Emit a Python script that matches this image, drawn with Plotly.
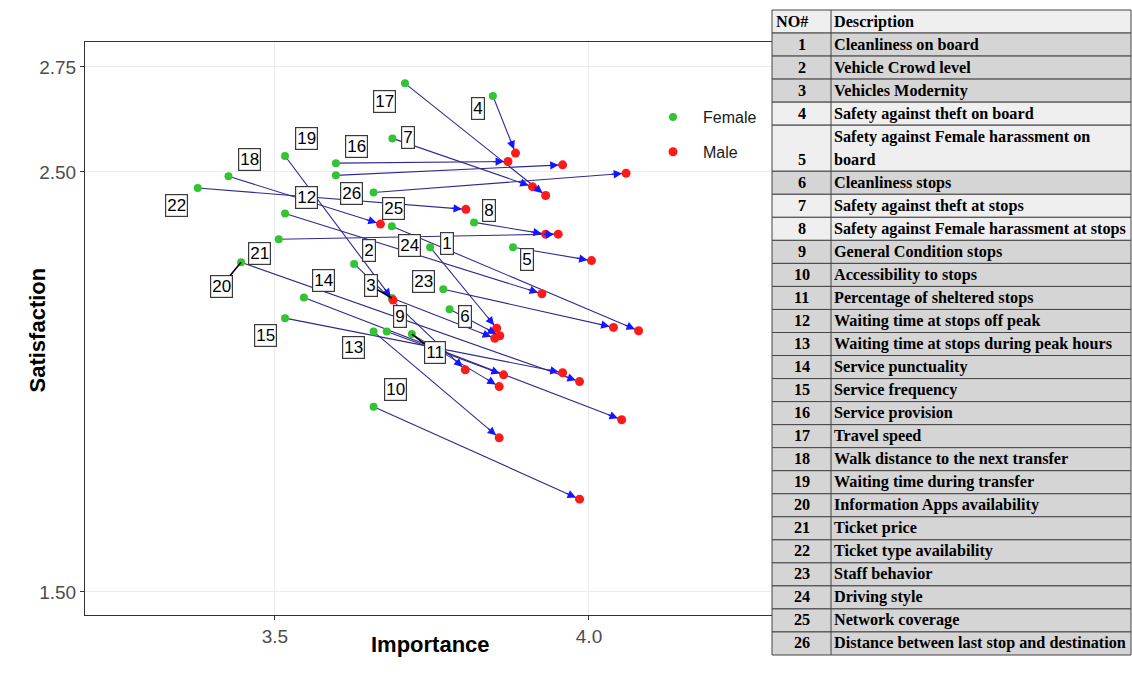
import plotly.graph_objects as go

# ---------------- data ----------------
item_no = list(range(1, 27))
female_importance = [3.747, 3.626, 3.686, 3.847, 3.879, 3.778, 3.687, 3.817, 3.678, 3.657,
                     3.718, 3.516, 3.657, 3.546, 3.516, 3.597, 3.707, 3.426, 3.516, 3.446,
                     3.506, 3.377, 3.768, 3.686, 3.657, 3.597]
female_satisfaction = [2.321, 2.281, 2.200, 2.681, 2.321, 2.173, 2.580, 2.380, 2.120, 1.941,
                       2.114, 2.401, 2.120, 2.201, 2.152, 2.521, 2.711, 2.490, 2.538, 2.285,
                       2.340, 2.462, 2.221, 2.371, 2.451, 2.492]
male_importance = [3.853, 3.803, 3.850, 3.883, 4.004, 3.858, 3.910, 3.931, 3.864, 3.985,
                   3.857, 3.925, 3.857, 4.052, 3.958, 3.871, 3.931, 3.668, 3.688, 3.985,
                   3.951, 3.804, 4.039, 4.079, 4.059, 3.958]
male_satisfaction = [2.128, 2.029, 2.104, 2.545, 2.289, 2.110, 2.465, 2.352, 2.017, 1.721,
                     1.989, 2.210, 1.867, 1.910, 2.022, 2.525, 2.444, 2.376, 2.195, 2.001,
                     2.352, 2.411, 2.130, 2.122, 2.497, 2.517]
descriptions = [
    "Cleanliness on board", "Vehicle Crowd level", "Vehicles Modernity",
    "Safety against theft on board", "Safety against Female harassment on board",
    "Cleanliness stops", "Safety against theft at stops",
    "Safety against Female harassment at stops", "General Condition stops",
    "Accessibility to stops", "Percentage of sheltered stops",
    "Waiting time at stops off peak", "Waiting time at stops during peak hours",
    "Service punctuality", "Service frequency", "Service provision", "Travel speed",
    "Walk distance to the next transfer", "Waiting time during transfer",
    "Information Apps availability", "Ticket price", "Ticket type availability",
    "Staff behavior", "Driving style", "Network coverage",
    "Distance between last stop and destination"]
table_header = ["NO#", "Description"]
x_ticks = [3.5, 4.0]
x_ticktext = ["3.5", "4.0"]
y_ticks = [1.5, 2.5, 2.75]
y_ticktext = ["1.50", "2.50", "2.75"]

# ---------------- layout constants ----------------
W, H = 1132, 675


def px(x):
    return x / W


def py(y):
    return 1 - y / H


PL, PR, PT, PB = 85, 772, 42, 615          # panel box (page pixels)
XR = [3.1975, 4.2914]
YR = [1.4452, 2.8095]
kx = (PR - PL) / (XR[1] - XR[0])
ky = (PB - PT) / (YR[1] - YR[0])

label_offsets = {1: (17, -4), 2: (15, -13), 3: (-21, -12), 4: (-15, 13), 5: (14, 12),
                 6: (15, 7), 7: (16, -1), 8: (15, -12), 9: (13, -15), 10: (22, -17),
                 11: (23, 18), 12: (21, -16), 13: (-20, 16), 14: (20, -17), 15: (-20, 17),
                 16: (21, -17), 17: (-20, 18), 18: (21, -17), 19: (21, -18), 20: (-20, 24),
                 21: (-19, 14), 22: (-21, 18), 23: (-20, -8), 24: (18, 19), 25: (20, 16),
                 26: (16, 18)}
segment_labels = {3, 11, 20}

GREEN = "#33c433"
RED = "#ff1a1a"
LINE = "#2e2a8c"
SANS = "Liberation Sans, Arial, sans-serif"
SERIF = "Liberation Serif, Times New Roman, serif"

fig = go.Figure()

lx, ly = [], []
for fx, fy, mx, my in zip(female_importance, female_satisfaction, male_importance, male_satisfaction):
    lx += [fx, mx, None]
    ly += [fy, my, None]
fig.add_trace(go.Scatter(x=lx, y=ly, mode="lines", line=dict(color=LINE, width=1.1),
                         showlegend=False, hoverinfo="skip"))
fig.add_trace(go.Scatter(x=female_importance, y=female_satisfaction, mode="markers",
                         marker=dict(color=GREEN, size=8), name="Female", legendgroup="f"))
fig.add_trace(go.Scatter(x=male_importance, y=male_satisfaction, mode="markers",
                         marker=dict(color=RED, size=9), name="Male", legendgroup="m"))

annotations = []
for fx, fy, mx, my in zip(female_importance, female_satisfaction, male_importance, male_satisfaction):
    dxp = (mx - fx) * kx
    dyp = -(my - fy) * ky
    n = (dxp ** 2 + dyp ** 2) ** 0.5
    L = 16
    annotations.append(dict(x=mx, y=my, xref="x", yref="y", ax=-L * dxp / n, ay=-L * dyp / n,
                            showarrow=True, arrowhead=2, arrowsize=1.4, arrowwidth=1.2,
                            arrowcolor="#1515ff", standoff=4, text=""))

for i, fx, fy in zip(item_no, female_importance, female_satisfaction):
    ox, oy = label_offsets[i]
    seg = i in segment_labels
    annotations.append(dict(x=fx, y=fy, xref="x", yref="y", ax=ox, ay=oy,
                            text=str(i), showarrow=True, arrowhead=0, arrowwidth=1.6,
                            arrowcolor="black" if seg else "rgba(0,0,0,0)",
                            font=dict(family=SANS, size=17, color="black"),
                            bgcolor="white", bordercolor="#3a3a3a", borderwidth=1.2,
                            borderpad=1))

annotations.append(dict(x=px(430), y=py(659), xref="paper", yref="paper",
                        text="<b>Importance</b>", showarrow=False,
                        font=dict(family=SANS, size=22, color="black")))
annotations.append(dict(x=px(22), y=py(330), xref="paper", yref="paper",
                        text="<b>Satisfaction</b>", showarrow=False, textangle=-90,
                        font=dict(family=SANS, size=22, color="black")))

# ---------------- description table (shapes + text) ----------------
T_TOP, T_BOT = 10, 655
C0, C1, C2 = 772, 831, 1131
units = 1 + len(item_no) + 1          # header + rows + extra line for the wrapped row
RH = (T_BOT - T_TOP) / units
light_rows = {0, 4, 5, 7, 8}
shapes = []
tfont = dict(family=SERIF, size=16.2, color="black")

rows = [("hdr", table_header[0], table_header[1])] + \
       [(i, str(i), d) for i, d in zip(item_no, descriptions)]
ytop = T_TOP
for key, num, desc in rows:
    span = 2 if (key == 5) else 1
    ybot = ytop + RH * span
    rid = 0 if key == "hdr" else key
    fill = "#efefef" if rid in light_rows else "#d5d5d5"
    shapes.append(dict(type="rect", xref="paper", yref="paper", x0=px(C0), x1=px(C2),
                       y0=py(ybot), y1=py(ytop), fillcolor=fill,
                       line=dict(color="#454545", width=1), layer="above"))
    ymid = (ytop + ybot) / 2
    if key == "hdr":
        annotations.append(dict(x=px(C0 + 2), y=py(ymid), xref="paper", yref="paper",
                                xanchor="left", yanchor="middle", showarrow=False,
                                text="<b>%s</b>" % num, font=tfont))
    else:
        nym = ymid + (RH / 2 if span == 2 else 0)
        annotations.append(dict(x=px((C0 + C1) / 2), y=py(nym), xref="paper", yref="paper",
                                xanchor="center", yanchor="middle", showarrow=False,
                                text="<b>%s</b>" % num, font=tfont))
    if span == 2:
        words = desc.split(" ")
        first, second = " ".join(words[:-1]), words[-1]
        annotations.append(dict(x=px(C1 + 1), y=py(ymid - RH / 2), xref="paper", yref="paper",
                                xanchor="left", yanchor="middle", showarrow=False,
                                text="<b>%s</b>" % first, font=tfont))
        annotations.append(dict(x=px(C1 + 1), y=py(ymid + RH / 2), xref="paper", yref="paper",
                                xanchor="left", yanchor="middle", showarrow=False,
                                text="<b>%s</b>" % second, font=tfont))
    else:
        annotations.append(dict(x=px(C1 + 1), y=py(ymid), xref="paper", yref="paper",
                                xanchor="left", yanchor="middle", showarrow=False,
                                text="<b>%s</b>" % desc, font=tfont))
    ytop = ybot

shapes.append(dict(type="line", xref="paper", yref="paper", x0=px(C1), x1=px(C1),
                   y0=py(T_BOT), y1=py(T_TOP), line=dict(color="#454545", width=1),
                   layer="above"))

axis_common = dict(showgrid=True, gridcolor="#ebebeb", gridwidth=1.4, zeroline=False,
                   ticks="outside", ticklen=4, tickcolor="#333333", tickwidth=1,
                   showline=True, mirror=True, linecolor="#333333", linewidth=1,
                   tickfont=dict(family=SANS, size=19, color="#4d4d4d"))

fig.update_layout(
    width=W, height=H, margin=dict(l=0, r=0, t=0, b=0),
    paper_bgcolor="white", plot_bgcolor="white",
    xaxis=dict(domain=[px(PL), px(PR)], range=XR, tickvals=x_ticks, ticktext=x_ticktext,
               **axis_common),
    yaxis=dict(domain=[py(PB), py(PT)], range=YR, tickvals=y_ticks,
               ticktext=y_ticktext, **axis_common),
    legend=dict(x=px(643), xanchor="left", y=py(100), yanchor="top", bgcolor="white",
                font=dict(family=SANS, size=16, color="#1a1a1a"), tracegroupgap=11,
                itemwidth=50),
    annotations=annotations,
    shapes=shapes,
    showlegend=True,
)

fig.write_html("out.html",
               config={"displayModeBar": False},
               post_script="document.body.style.margin='0px';"
                           "document.body.style.overflow='hidden';")
